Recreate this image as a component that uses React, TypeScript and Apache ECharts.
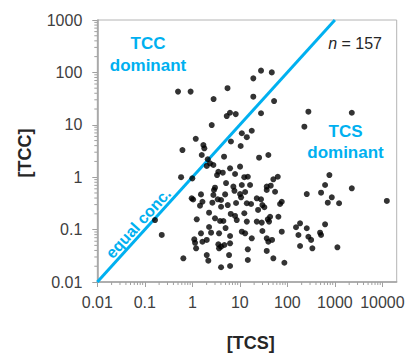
import React, { useEffect, useRef } from 'react';
import * as echarts from 'echarts';

const xTickLabels = ['0.01', '0.1', '1', '10', '100', '1000', '10000'];
const yTickLabels = ['0.01', '0.1', '1', '10', '100', '1000'];

// [TCS] values (x)
const tcs = [
  0.5, 0.92, 5.5, 2.8, 6.2, 5.3, 8.2, 2.56, 1.18, 0.62, 1.71, 1.79, 1.58, 2.11, 2.36, 2.01, 2.77, 6.5,
  4.65, 3.53, 4.37, 6.22, 0.58, 1.0, 3.0, 4.9, 7.3, 7.7, 0.97, 1.04, 1.52, 1.63, 1.45, 2.77, 3.43, 4.02,
  2.64, 5.56, 1.24, 2.25, 3.0, 3.83, 4.5, 6.43, 7.92, 0.164, 0.227, 0.647, 1.1, 1.14, 1.2, 1.52, 1.63,
  2.01, 2.48, 3.65, 6.22, 3.53, 4.02, 4.72, 6.22, 3.65, 2.01, 2.17, 4.02, 6.22, 4.02,
  19.2, 27.9, 47, 19.2, 52.5, 27.9, 11, 14, 17.8, 10.4, 25.4, 39.8, 10.1, 7.92, 12.4, 14.7, 11,
  10.1, 10.6, 14, 17.2, 22.7, 27.9, 29.8, 32.8, 36.8, 44.7, 36.8, 55.1, 50.7, 62.8, 76.2, 70.2,
  12.4, 14, 11, 12.9, 17.8, 22.7, 28.9, 38.7, 43.3, 64.7, 29.8, 41.2, 36.8, 39.8, 76.2,
  14.7, 14.7, 36.8, 50.7, 86.5, 8.6, 152, 185, 171, 256, 277, 316, 488, 512, 622, 185, 336, 1130,
  256, 512, 622, 766, 709, 861, 1225, 2270, 12400, 228, 277, 2270,
  2.86, 5.12, 8.32, 2.25, 5.0, 12.9, 24.2, 47.6, 5.93, 16.4, 3.31,
];

// [TCC] values (y)
const tcc = [
  43, 43, 50, 31, 17, 14.7, 16, 9.9, 5.4, 3.3, 4.1, 3.56, 2.65, 2.2, 1.84, 1.64, 1.71, 4.8,
  2.46, 1.27, 1.22, 1.48, 1.0, 0.95, 0.63, 0.47, 0.66, 0.55, 0.395, 0.375, 0.47, 0.34, 0.286, 0.457, 0.378, 0.367,
  0.326, 0.294, 0.157, 0.21, 0.164, 0.146, 0.146, 0.199, 0.182, 0.152, 0.079, 0.0283, 0.065, 0.056, 0.044, 0.085, 0.0587,
  0.0634, 0.0873, 0.085, 0.0755, 0.0524, 0.0472, 0.0508, 0.0548, 0.044, 0.0327, 0.0255, 0.0191, 0.0202, 0.273,
  77, 108, 100, 34.4, 28.4, 16.6, 6.9, 5.8, 7.7, 3.94, 2.36, 2.65, 1.59, 1.15, 1.0, 1.02, 0.71,
  0.477, 0.413, 0.318, 0.308, 0.395, 0.378, 0.294, 0.267, 0.66, 0.689, 0.57, 0.528, 0.912, 1.02, 0.34, 0.308,
  0.205, 0.142, 0.0912, 0.0849, 0.0682, 0.142, 0.136, 0.157, 0.176, 0.176, 0.094, 0.142, 0.0682, 0.0587, 0.0912,
  0.042, 0.0263, 0.0391, 0.0283, 0.0233, 0.152, 0.111, 0.132, 0.0789, 0.106, 0.0731, 0.0634, 0.0873, 0.0789, 0.126, 0.0486, 0.044, 0.0459,
  0.477, 0.506, 0.71, 1.1, 0.326, 0.413, 0.318, 0.614, 0.352, 9.2, 17.8, 17,
  0.57, 0.774, 0.322, 0.112, 0.107, 0.522, 0.237, 0.0634, 0.0327, 0.71, 1.1,
];

const equalLine = [
  [0.01, 0.01],
  [1000, 1000],
];

const X_MIN = 0.01;
const X_MAX = 20000;
const Y_MIN = 0.01;
const Y_MAX = 1000;

const CYAN = '#00b0f0';
const AXIS = '#a0a0a0';
const TEXT = '#404040';
const FONT = '"Liberation Sans", Arial, sans-serif';

function decadeLabel(labels: string[], offset: number) {
  return (v: number) => {
    const l = Math.log10(v);
    const r = Math.round(l);
    if (Math.abs(l - r) > 1e-6) return '';
    return labels[r + offset] ?? '';
  };
}

function minorTicks(fromExp: number, toExp: number) {
  const out: number[] = [];
  for (let e = fromExp; e < toExp; e++) {
    for (let m = 2; m <= 9; m++) out.push(+(m * Math.pow(10, e)).toPrecision(3));
  }
  return out;
}

export default function App() {
  const ref = useRef<HTMLDivElement>(null);

  useEffect(() => {
    if (!ref.current) return;
    const chart = echarts.init(ref.current, undefined, { renderer: 'svg' });
    const points = tcs.map((x, i) => [x, tcc[i]]);
    const xMinor = minorTicks(-2, 4);
    const yMinor = minorTicks(-2, 3);

    chart.setOption({
      animation: false,
      backgroundColor: '#ffffff',
      grid: {
        left: 97.3,
        right: 11.3,
        top: 20,
        bottom: 73,
        show: true,
        borderColor: '#b4b4b4',
        borderWidth: 1,
        outerBoundsMode: 'none',
      },
      xAxis: {
        type: 'log',
        logBase: 10,
        min: X_MIN,
        max: X_MAX,
        splitLine: { show: false },
        axisLine: { show: true, lineStyle: { color: AXIS, width: 1.5 } },
        axisTick: { show: true, inside: false, length: 5, lineStyle: { color: AXIS, width: 1 } },
        axisLabel: {
          formatter: decadeLabel(xTickLabels, 2),
          color: TEXT,
          fontSize: 16,
          fontFamily: FONT,
          margin: 12,
          showMaxLabel: false,
        },
      },
      yAxis: {
        type: 'log',
        logBase: 10,
        min: Y_MIN,
        max: Y_MAX,
        splitLine: { show: false },
        axisLine: { show: true, lineStyle: { color: AXIS, width: 1.5 } },
        axisTick: { show: true, inside: false, length: 5, lineStyle: { color: AXIS, width: 1 } },
        axisLabel: {
          formatter: decadeLabel(yTickLabels, 2),
          color: TEXT,
          fontSize: 16,
          fontFamily: FONT,
          margin: 15,
        },
      },
      series: [
        {
          type: 'custom',
          coordinateSystem: 'cartesian2d',
          silent: true,
          clip: false,
          data: xMinor.map((v) => [v, Y_MIN]),
          renderItem: (_p: any, api: any) => {
            const p = api.coord([api.value(0), api.value(1)]);
            return {
              type: 'line',
              shape: { x1: p[0], y1: p[1], x2: p[0], y2: p[1] + 3 },
              style: { stroke: AXIS, lineWidth: 1 },
            };
          },
        },
        {
          type: 'custom',
          coordinateSystem: 'cartesian2d',
          silent: true,
          clip: false,
          data: yMinor.map((v) => [X_MIN, v]),
          renderItem: (_p: any, api: any) => {
            const p = api.coord([api.value(0), api.value(1)]);
            return {
              type: 'line',
              shape: { x1: p[0], y1: p[1], x2: p[0] - 3, y2: p[1] },
              style: { stroke: AXIS, lineWidth: 1 },
            };
          },
        },
        {
          type: 'line',
          data: equalLine,
          showSymbol: false,
          symbol: 'none',
          silent: true,
          lineStyle: { color: CYAN, width: 3 },
          z: 2,
        },
        {
          type: 'scatter',
          data: points,
          symbol: 'circle',
          symbolSize: 6,
          itemStyle: { color: '#000000' },
          z: 3,
        },
      ],
      graphic: [
        {
          type: 'text',
          x: 148,
          y: 43,
          style: { text: 'TCC', fill: CYAN, font: `bold 17px ${FONT}`, textAlign: 'center', textVerticalAlign: 'middle' },
        },
        {
          type: 'text',
          x: 148,
          y: 65,
          style: { text: 'dominant', fill: CYAN, font: `bold 17px ${FONT}`, textAlign: 'center', textVerticalAlign: 'middle' },
        },
        {
          type: 'text',
          x: 345.5,
          y: 131,
          style: { text: 'TCS', fill: CYAN, font: `bold 17px ${FONT}`, textAlign: 'center', textVerticalAlign: 'middle' },
        },
        {
          type: 'text',
          x: 345.5,
          y: 152,
          style: { text: 'dominant', fill: CYAN, font: `bold 17px ${FONT}`, textAlign: 'center', textVerticalAlign: 'middle' },
        },
        {
          type: 'text',
          x: 382,
          y: 43,
          style: {
            text: '{i|n} = 157',
            fill: '#262626',
            font: `16px ${FONT}`,
            textAlign: 'right',
            textVerticalAlign: 'middle',
            rich: { i: { fontStyle: 'italic', fontSize: 16, fontFamily: FONT, fill: '#262626' } },
          },
        },
        {
          type: 'text',
          x: 138.3,
          y: 223.3,
          rotation: 0.834,
          style: { text: 'equal conc.', fill: CYAN, font: `bold 16px ${FONT}`, textAlign: 'center', textVerticalAlign: 'middle' },
        },
        {
          type: 'text',
          x: 25,
          y: 153,
          rotation: Math.PI / 2,
          style: { text: '[TCC]', fill: '#262626', font: `bold 18px ${FONT}`, textAlign: 'center', textVerticalAlign: 'middle' },
        },
        {
          type: 'text',
          x: 250.7,
          y: 343,
          style: { text: '[TCS]', fill: '#262626', font: `bold 18px ${FONT}`, textAlign: 'center', textVerticalAlign: 'middle' },
        },
      ],
    });
    return () => chart.dispose();
  }, []);

  return (
    <div
      ref={ref}
      style={{ position: 'absolute', left: 0, top: 0, width: 408, height: 355, background: '#fff' }}
    />
  );
}
